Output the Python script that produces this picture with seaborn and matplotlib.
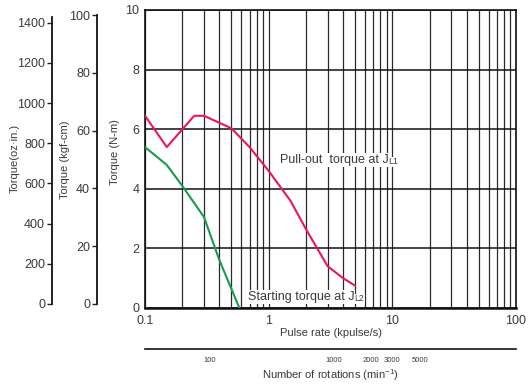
import matplotlib
matplotlib.use("Agg")
import matplotlib.pyplot as plt
import matplotlib.ticker as mticker
import pandas as pd
import seaborn as sns

# pulse rate (kpulse/s) and torque (N-m)
pullout_rate = [0.1, 0.15, 0.25, 0.3, 0.5, 0.7, 1.0, 1.5, 2.0, 3.0, 4.0, 5.0]
pullout_torque = [6.45, 5.4, 6.45, 6.45, 6.03, 5.4, 4.6, 3.6, 2.65, 1.4, 1.0, 0.75]
start_rate = [0.1, 0.15, 0.2, 0.3, 0.4, 0.58]
start_torque = [5.4, 4.8, 4.1, 3.05, 1.6, 0.0]

rate_ticks = [0.1, 1, 10, 100]
rpm_ticks = [100, 1000, 2000, 3000, 5000]
nm_ticks = [0, 2, 4, 6, 8, 10]
kgf_ticks = [0, 20, 40, 60, 80, 100]
oz_ticks = [0, 200, 400, 600, 800, 1000, 1200, 1400]

RED = "#e8185a"
GREEN = "#1a9a4c"
TXT = "#3a3a3a"

sns.set_style("white")
plt.rcParams["font.family"] = ["Liberation Sans", "DejaVu Sans"]
plt.rcParams["text.color"] = TXT
plt.rcParams["axes.labelcolor"] = TXT
plt.rcParams["xtick.color"] = "#222222"
plt.rcParams["ytick.color"] = "#222222"
plt.rcParams["xtick.labelcolor"] = TXT
plt.rcParams["ytick.labelcolor"] = TXT

W, H = 528, 384
fig = plt.figure(figsize=(W / 100, H / 100), dpi=100)
ax = fig.add_axes([145 / W, (H - 308) / H, 371 / W, 298 / H])

pull = pd.DataFrame({"rate": pullout_rate, "torque": pullout_torque})
start = pd.DataFrame({"rate": start_rate, "torque": start_torque})
sns.lineplot(data=pull, x="rate", y="torque", color=RED, lw=1.5, ax=ax, zorder=4)
sns.lineplot(data=start, x="rate", y="torque", color=GREEN, lw=1.5, ax=ax, zorder=4)

ax.set_xscale("log")
ax.set_xlim(0.1, 100)
ax.set_ylim(0, 10)
ax.set_xticks(rate_ticks)
ax.set_xticklabels([f"{t:g}" for t in rate_ticks])
ax.xaxis.set_minor_locator(mticker.LogLocator(base=10, subs=range(2, 10)))
ax.xaxis.set_minor_formatter(mticker.NullFormatter())
ax.set_yticks(nm_ticks)
ax.grid(which="both", axis="x", color="#2a2a2a", lw=0.9)
ax.grid(which="major", axis="y", color="#111111", lw=1.1)
ax.tick_params(axis="both", which="both", length=0, labelsize=9)
ax.tick_params(axis="y", pad=4)
ax.tick_params(axis="x", pad=5)
for s in ax.spines.values():
    s.set_color("#111111")
    s.set_linewidth(1.2)
ax.spines["bottom"].set_linewidth(1.8)
ax.set_xlabel("Pulse rate (kpulse/s)", fontsize=8, labelpad=1)
ax.set_ylabel("")
# the 0 label sits a little above the bottom line in the original
ax.get_yticklabels()[0].set_y(0.12)

t1 = ax.text(1.23, 4.87, "Pull-out  torque at J", fontsize=9, va="baseline",
             ha="left", zorder=3, bbox=dict(fc="white", ec="none", pad=0.5))
ax.annotate("L1", xy=(1, 0), xycoords=t1, xytext=(0, -0.3), textcoords="offset points",
            fontsize=6.3, va="bottom", ha="left", zorder=3,
            bbox=dict(fc="white", ec="none", pad=0.5))
t2 = ax.text(0.68, 0.27, "Starting torque at J", fontsize=9, va="baseline",
             ha="left", zorder=3, bbox=dict(fc="white", ec="none", pad=0.5))
ax.annotate("L2", xy=(1, 0), xycoords=t2, xytext=(0, -0.3), textcoords="offset points",
            fontsize=6.3, va="bottom", ha="left", zorder=3,
            bbox=dict(fc="white", ec="none", pad=0.5))

# rotations axis below the pulse-rate axis (1.8 deg step -> rpm = 300 * kpps)
sec = ax.secondary_xaxis(-41 / 298, functions=(lambda x: x * 300, lambda r: r / 300))
sec.set_xticks(rpm_ticks)
sec.set_xticklabels([str(t) for t in rpm_ticks])
sec.xaxis.set_minor_locator(mticker.NullLocator())
sec.tick_params(length=0, labelsize=5.5, pad=6)
sec.spines["bottom"].set_linewidth(1.2)
sec.spines["bottom"].set_color("#111111")
sec.set_xlabel(r"Number of rotations (min$^{\mathregular{-1}}$)", fontsize=8, labelpad=2)


def side_axis(x_px, top_px, top_val, ticks):
    a = fig.add_axes([x_px / W, (H - 304) / H, 0.0001, (304 - top_px) / H])
    a.set_ylim(0, top_val)
    a.set_yticks(ticks)
    a.set_xticks([])
    a.patch.set_visible(False)
    for k in ("top", "right", "bottom"):
        a.spines[k].set_visible(False)
    a.spines["left"].set_color("#111111")
    a.spines["left"].set_linewidth(1.3)
    a.tick_params(axis="y", left=True, direction="out", length=3.5, width=1.0,
                  pad=1.5, labelsize=9)
    return a


side_axis(97, 15, 100, kgf_ticks)
side_axis(52, 16.7, 1430, oz_ticks)

# axis titles, placed in figure pixels
for txt, xp, yp in (("Torque(oz·in.)", 15, 158), ("Torque (kgf-cm)", 65, 160),
                    ("Torque (N-m)", 115, 152)):
    fig.text(xp / W, 1 - yp / H, txt, rotation=90, fontsize=8, color=TXT,
             ha="center", va="center")

fig.savefig("out.png", dpi=100)
